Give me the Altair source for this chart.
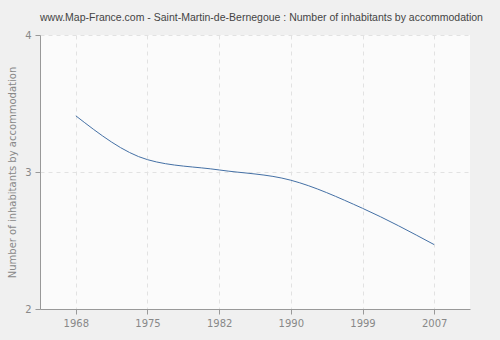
import altair as alt
import pandas as pd

years = ["1968", "1975", "1982", "1990", "1999", "2007"]
values = [3.41, 3.09, 3.015, 2.94, 2.735, 2.47]
y_ticks = [2.0, 3.0, 4.0]

df = pd.DataFrame({"year": years, "value": values})

line = alt.Chart(df).mark_line(
    interpolate="monotone", color="#4470a5", strokeWidth=1
).encode(
    x=alt.X("year:O", sort=years,
            scale=alt.Scale(type="point", padding=0.5),
            axis=alt.Axis(title=None, labelAngle=0, grid=True, gridDash=[4, 4],
                          gridColor="#e2e2e2", domainColor="#999999", tickColor="#999999",
                          tickSize=5, labelColor="#888888", labelFont="DejaVu Sans",
                          labelFontSize=10, labelPadding=4)),
    y=alt.Y("value:Q", scale=alt.Scale(domain=[2, 4], nice=False, zero=False),
            axis=alt.Axis(title="Number of inhabitants by accommodation", values=y_ticks,
                          format=".0f", grid=True, gridDash=[4, 4], gridColor="#e2e2e2",
                          domainColor="#999999", tickColor="#999999", tickSize=5,
                          labelColor="#888888", labelFont="DejaVu Sans", labelFontSize=10,
                          labelPadding=4, labelOverlap=False, labelFlush=False,
                          titleColor="#888888", titleFont="DejaVu Sans",
                          titleFontSize=10, titleFontWeight="normal", titlePadding=7)),
)

chart = line.properties(
    width=430, height=274,
    title=alt.TitleParams(
        "www.Map-France.com - Saint-Martin-de-Bernegoue : Number of inhabitants by accommodation",
        anchor="start", frame="group", font="Liberation Sans", fontSize=10.5,
        fontWeight="normal", color="#444444", offset=7),
    autosize="none",
    padding={"left": 40, "top": 35, "right": 30, "bottom": 31},
    background="#f0f0f0",
).configure_view(fill="#fbfbfb", stroke=None)

chart.save("out.html", embed_options={"renderer": "svg", "actions": False})
